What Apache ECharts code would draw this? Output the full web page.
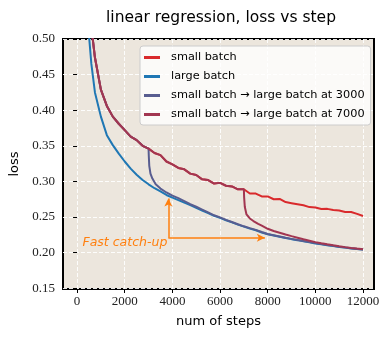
<!DOCTYPE html>
<html>
<head>
<meta charset="utf-8">
<script src="https://cdn.jsdelivr.net/npm/echarts@6/dist/echarts.min.js"></script>
<style>
	html, body { margin: 0; padding: 0; background: #fff; }
	#chart { width: 388px; height: 338px; }
</style>
</head>
<body>
<div id="chart"></div>
<script>
	// x ticks / y ticks
	var xTicks = [0, 2000, 4000, 6000, 8000, 10000, 12000];
	var yTicks = [0.15, 0.20, 0.25, 0.30, 0.35, 0.40, 0.45, 0.50];

	// small batch
	var smallSteps = [500, 750, 1000, 1250, 1500, 1750, 2000, 2250, 2500, 2750, 3000, 3250, 3500, 3750, 4000, 4250, 4500, 4750, 5000, 5250, 5500, 5750, 6000, 6250, 6500, 6750, 7000, 7250, 7500, 7750, 8000, 8250, 8500, 8750, 9000, 9250, 9500, 9750, 10000, 10250, 10500, 10750, 11000, 11250, 11500, 11750, 12000];
	var smallLoss = [0.545, 0.474, 0.429, 0.406, 0.391, 0.381, 0.372, 0.363, 0.358, 0.350, 0.346, 0.340, 0.337, 0.328, 0.324, 0.319, 0.317, 0.311, 0.309, 0.303, 0.302, 0.297, 0.298, 0.294, 0.293, 0.289, 0.289, 0.283, 0.283, 0.279, 0.279, 0.275, 0.2755, 0.271, 0.2695, 0.268, 0.2665, 0.264, 0.2635, 0.2612, 0.2615, 0.2598, 0.2592, 0.2572, 0.2572, 0.2545, 0.2515];

	// large batch
	var largeSteps = [450, 500, 600, 750, 1000, 1250, 1500, 1750, 2000, 2250, 2500, 2750, 3000, 3250, 3500, 3750, 4000, 4250, 4500, 4750, 5000, 5250, 5500, 5750, 6000, 6250, 6500, 6750, 7000, 7250, 7500, 7750, 8000, 8250, 8500, 8750, 9000, 9250, 9500, 9750, 10000, 10250, 10500, 10750, 11000, 11250, 11500, 11750, 12000];
	var largeLoss = [0.53, 0.505, 0.465, 0.425, 0.391, 0.365, 0.351, 0.339, 0.328, 0.318, 0.3095, 0.302, 0.296, 0.2905, 0.286, 0.281, 0.2772, 0.2738, 0.2702, 0.2668, 0.263, 0.2592, 0.2556, 0.2518, 0.2488, 0.2455, 0.2426, 0.2394, 0.2366, 0.2338, 0.2314, 0.2284, 0.2258, 0.2241, 0.2224, 0.2206, 0.219, 0.2176, 0.2159, 0.2146, 0.213, 0.2119, 0.2104, 0.2093, 0.208, 0.2071, 0.206, 0.2051, 0.2043];

	// small batch -> large batch at 3000
	var switch3kSteps = [500, 750, 1000, 1250, 1500, 1750, 2000, 2250, 2500, 2750, 3000, 3010, 3030, 3080, 3160, 3300, 3500, 3750, 4000, 4250, 4500, 4750, 5000, 5250, 5500, 5750, 6000, 6250, 6500, 6750, 7000, 7250, 7500, 7750, 8000, 8250, 8500, 8750, 9000, 9250, 9500, 9750, 10000, 10250, 10500, 10750, 11000, 11250, 11500, 11750, 12000];
	var switch3kLoss = [0.545, 0.474, 0.429, 0.406, 0.391, 0.381, 0.372, 0.363, 0.358, 0.350, 0.346, 0.336, 0.322, 0.311, 0.304, 0.296, 0.290, 0.2845, 0.280, 0.2765, 0.2725, 0.268, 0.2645, 0.2605, 0.2565, 0.2525, 0.2495, 0.246, 0.243, 0.240, 0.237, 0.2345, 0.232, 0.229, 0.2262, 0.2245, 0.2228, 0.221, 0.2194, 0.2178, 0.2163, 0.2148, 0.2134, 0.2121, 0.2108, 0.2096, 0.2084, 0.2073, 0.2063, 0.2053, 0.2046];

	// small batch -> large batch at 7000
	var switch7kSteps = [500, 750, 1000, 1250, 1500, 1750, 2000, 2250, 2500, 2750, 3000, 3250, 3500, 3750, 4000, 4250, 4500, 4750, 5000, 5250, 5500, 5750, 6000, 6250, 6500, 6750, 7000, 7010, 7040, 7110, 7250, 7400, 7600, 7750, 8000, 8250, 8500, 8750, 9000, 9250, 9500, 9750, 10000, 10250, 10500, 10750, 11000, 11250, 11500, 11750, 12000];
	var switch7kLoss = [0.545, 0.474, 0.429, 0.406, 0.391, 0.381, 0.372, 0.363, 0.358, 0.350, 0.346, 0.340, 0.337, 0.328, 0.324, 0.319, 0.317, 0.311, 0.309, 0.303, 0.302, 0.297, 0.298, 0.294, 0.293, 0.289, 0.289, 0.278, 0.264, 0.2537, 0.248, 0.2444, 0.2405, 0.238, 0.2335, 0.2305, 0.228, 0.2255, 0.2232, 0.221, 0.2188, 0.2168, 0.2148, 0.2132, 0.2117, 0.2103, 0.209, 0.2078, 0.2067, 0.2057, 0.2048];

	// annotation: arrow origin and the two tips
	var catchFrom = [3830, 0.221];
	var catchUp = [3830, 0.276];
	var catchRight = [7880, 0.221];

	function pairs(xs, ys) {
		var out = [];
		for (var i = 0; i < xs.length; i++) out.push([xs[i], ys[i]]);
		return out;
	}

	var names = ['small batch', 'large batch', 'small batch \u2192 large batch at 3000', 'small batch \u2192 large batch at 7000'];
	var colors = ['#d92a2c', '#1f77b4', '#585d90', '#a23651'];
	var orange = '#ff7f0e';

	function lineSeries(i, data) {
		return {
			name: names[i],
			type: 'line',
			data: data,
			showSymbol: false,
			symbol: 'none',
			color: colors[i],
			lineStyle: { width: 2, color: colors[i] },
			z: 2 + i
		};
	}

	var myChart = echarts.init(document.getElementById('chart'), null, { renderer: 'canvas' });
	myChart.setOption({
		animation: false,
		backgroundColor: '#fff',
		title: {
			text: 'linear regression, loss vs step',
			left: 216, top: 5, textAlign: 'center',
			textStyle: { fontFamily: 'DejaVu Sans', fontSize: 15.5, fontWeight: 'normal', color: '#000' }
		},
		legend: {
			data: names,
			orient: 'vertical',
			left: 140, top: 46,
			padding: [6, 6, 5, 4],
			itemGap: 8,
			itemWidth: 16, itemHeight: 3,
			icon: 'rect',
			backgroundColor: 'rgba(255,255,255,0.8)',
			borderColor: '#cccccc', borderWidth: 1, borderRadius: 3,
			textStyle: { fontFamily: 'DejaVu Sans', fontSize: 11.3, color: '#000', padding: [0, 0, 0, 6] }
		},
		grid: {
			left: 58, right: 14, top: 39, bottom: 49,
			show: true,
			backgroundColor: '#ece6dd',
			borderColor: '#000', borderWidth: 2
		},
		xAxis: {
			type: 'value',
			min: -590, max: 12460,
			name: 'num of steps',
			nameLocation: 'middle', nameGap: 26,
			nameTextStyle: { fontFamily: 'DejaVu Sans', fontSize: 13, color: '#000' },
			axisLine: { show: false },
			axisTick: { show: true, length: 4, inside: false, customValues: xTicks, lineStyle: { color: '#000' } },
			axisLabel: {
				customValues: xTicks, margin: 6,
				fontFamily: 'Liberation Serif', fontSize: 13, color: '#222',
				formatter: function (v) { return String(v); }
			},
			splitLine: { show: true, lineStyle: { color: 'rgba(255,255,255,0.9)', type: [4, 2], width: 1 } }
		},
		yAxis: {
			type: 'value',
			min: 0.149, max: 0.5,
			name: 'loss',
			nameLocation: 'middle', nameGap: 42,
			nameTextStyle: { fontFamily: 'DejaVu Sans', fontSize: 13, color: '#000' },
			axisLine: { show: false },
			axisTick: { show: true, length: 4, customValues: yTicks, lineStyle: { color: '#000' } },
			axisLabel: {
				customValues: yTicks, margin: 8,
				fontFamily: 'Liberation Serif', fontSize: 13, color: '#222',
				formatter: function (v) { return v.toFixed(2); }
			},
			splitLine: { show: true, lineStyle: { color: 'rgba(255,255,255,0.9)', type: [4, 2], width: 1 } }
		},
		series: [
			lineSeries(0, pairs(smallSteps, smallLoss)),
			lineSeries(1, pairs(largeSteps, largeLoss)),
			lineSeries(2, pairs(switch3kSteps, switch3kLoss)),
			lineSeries(3, pairs(switch7kSteps, switch7kLoss)),
			{
				name: 'catchup',
				type: 'line',
				data: [],
				silent: true,
				z: 10,
				markLine: {
					silent: true,
					symbol: ['none', 'arrow'],
					symbolSize: [6, 8],
					label: { show: false },
					lineStyle: { color: orange, width: 1.5, type: 'solid' },
					data: [
						[{ coord: catchFrom }, { coord: catchUp }],
						[{ coord: catchFrom }, { coord: catchRight }]
					]
				}
			}
		]
	});

	// text next to the arrows, placed through the axis scales
	var p = myChart.convertToPixel({ gridIndex: 0 }, catchFrom);
	myChart.setOption({
		graphic: [{
			type: 'text',
			x: p[0] - 1, y: p[1] + 5,
			z: 20,
			style: {
				text: 'Fast catch-up',
				fill: orange,
				font: 'italic 12.5px "DejaVu Sans"',
				align: 'right', verticalAlign: 'middle'
			}
		}]
	});
</script>
</body>
</html>
